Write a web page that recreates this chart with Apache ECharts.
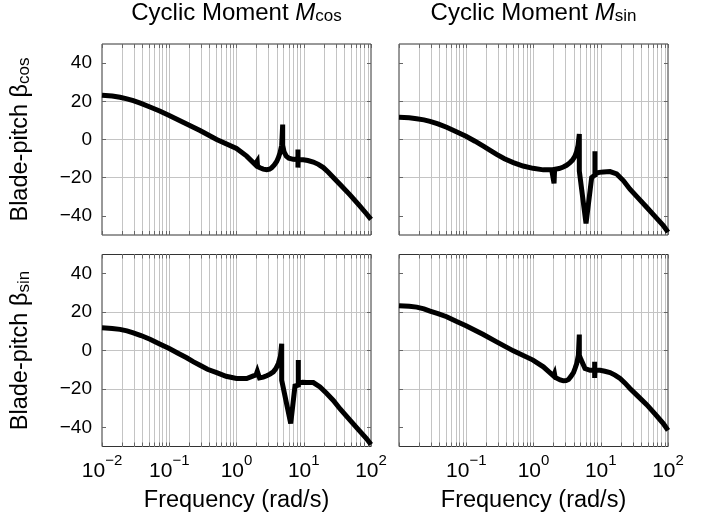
<!DOCTYPE html>
<html><head><meta charset="utf-8">
<script src="https://cdn.jsdelivr.net/npm/echarts@6/dist/echarts.min.js"></script>
<style>html,body{margin:0;padding:0;background:#fff}#c{width:717px;height:521px}</style>
</head><body><div id="c"></div>
<script>
// ---- data ----
const xMajorTicks = [0.01, 0.1, 1, 10, 100];
const yTicks = [-40, -20, 0, 20, 40];
const columnInputs = ['cos', 'sin'];   // Cyclic Moment M_cos / M_sin
const rowOutputs = ['cos', 'sin'];     // Blade-pitch beta_cos / beta_sin

// Top-left: beta_cos / M_cos
const freqTL = [0.01,0.0142,0.0185,0.0235,0.0292,0.038,0.0517,0.072,0.1,0.1816,0.2866,0.507,1.0,1.417,1.884,2.0,2.03,2.06,2.235,2.5,2.81,3.1,3.33,3.65,3.96,4.2,4.44,4.7,4.86,4.86,5.1,5.5,6.0,7.0,8.2,8.2,8.2,8.25,9.86,11.5,13.88,16.5,19.56,23.0,27.54,35.0,48.7,65.0,86.2,100];
const magTL  = [23.2,22.8,22.1,21.3,20.3,18.9,17.0,14.9,12.6,8.1,4.7,0.0,-4.7,-8.7,-13.0,-13.8,-11.3,-14.2,-14.8,-15.5,-15.8,-15.5,-14.8,-13.3,-11.5,-9.5,-6.9,-3.0,7.8,-3.0,-6.5,-8.7,-9.8,-10.4,-10.5,-5.2,-14.7,-10.5,-10.6,-11.0,-11.8,-13.0,-14.7,-17.0,-19.9,-23.7,-29.0,-34.0,-39.0,-41.8];

// Top-right: beta_cos / M_sin
const freqTR = [0.01,0.0142,0.0183,0.0235,0.0289,0.038,0.0511,0.07,0.0992,0.135,0.1795,0.23,0.2833,0.37,0.5013,0.7,0.983,1.4,1.862,1.98,2.02,2.06,2.4,2.777,3.1,3.49,3.8,4.14,4.39,4.6,4.8,4.8,6.04,7.33,8.2,8.2,8.2,8.3,9.5,10.92,13.73,17.25,21.67,27.2,35.0,48.2,65.0,85.2,100];
const magTR  = [11.6,11.4,10.9,10.3,9.5,8.2,6.4,4.2,1.7,-0.9,-3.5,-5.8,-7.8,-10.1,-12.1,-13.9,-15.1,-15.9,-15.8,-15.7,-23.0,-15.6,-15.2,-14.4,-13.5,-12.1,-10.8,-8.7,-6.2,-3.0,2.9,-16.5,-44.0,-19.9,-18.5,-6.1,-19.5,-17.8,-17.2,-17.0,-16.8,-18.0,-21.5,-26.0,-30.2,-35.5,-40.5,-45.0,-48.5];

// Bottom-left: beta_sin / M_cos
const freqBL = [0.01,0.0142,0.0185,0.0235,0.0292,0.038,0.0517,0.072,0.1,0.135,0.1816,0.23,0.2866,0.37,0.507,0.7,1.0,1.417,1.78,1.95,2.04,2.2,2.5,2.81,3.15,3.53,3.85,4.19,4.5,4.7,4.7,6.4,7.41,8.3,8.3,8.3,8.4,9.6,11.05,13.88,17.44,21.8,27.54,35.0,48.7,65.0,86.2,100];
const magBL  = [11.8,11.5,11.0,10.2,9.2,7.8,5.9,3.4,1.0,-1.4,-3.8,-5.9,-7.7,-9.8,-11.5,-13.4,-14.6,-14.6,-13.2,-12.8,-10.8,-14.3,-13.9,-13.2,-12.3,-11.1,-9.4,-6.8,-3.0,3.5,-15.5,-38.0,-18.5,-18.0,-5.0,-18.5,-17.0,-16.6,-16.7,-16.7,-19.0,-22.3,-26.0,-30.6,-36.3,-41.2,-46.0,-49.0];

// Bottom-right: beta_sin / M_sin
const freqBR = [0.01,0.0142,0.0183,0.0235,0.0289,0.038,0.0511,0.072,0.0992,0.1795,0.2833,0.5013,0.983,1.40,1.98,2.05,2.1,2.23,2.5,2.78,3.05,3.31,3.6,3.93,4.15,4.39,4.65,4.8,4.8,5.05,5.27,5.83,6.95,8.12,8.12,8.12,8.2,9.8,11.5,13.73,16.3,19.4,23.0,27.2,35.0,48.2,65.0,85.2,100];
const magBR  = [23.3,23.0,22.6,21.7,20.5,19.2,17.6,15.1,12.9,8.3,4.5,-0.2,-5.0,-8.5,-13.2,-12.0,-14.0,-14.5,-15.3,-15.8,-15.7,-15.1,-13.5,-11.5,-9.3,-6.8,-2.5,8.3,-2.5,-4.5,-5.9,-9.4,-10.3,-10.3,-5.9,-14.3,-10.3,-10.3,-10.8,-11.5,-12.8,-14.6,-17.0,-19.8,-23.5,-28.2,-33.3,-38.1,-41.6];

// ---- layout / style ----
const FONT = '"Liberation Sans", Arial, Helvetica, sans-serif';
const panels = [
  {f: freqTL, v: magTL}, {f: freqTR, v: magTR},
  {f: freqBL, v: magBL}, {f: freqBR, v: magBR}
];
const gridPos = [[102, 43], [399, 43], [102, 254.5], [399, 254.5]];
const GW = 269, GH = 192;
const GRID_COLOR = '#c4c4c4', TICK_COLOR = '#666', FRAME_COLOR = '#333';

const xAllTicks = [];
for (let i = 0; i < xMajorTicks.length - 1; i++) {
  for (let k = 1; k <= 9; k++) xAllTicks.push(+(k * xMajorTicks[i]).toPrecision(3));
}
xAllTicks.push(xMajorTicks[xMajorTicks.length - 1]);

function supLabel(v) {
  const e = Math.round(Math.log10(v));
  return '{b|10}{s|' + (e < 0 ? '\u2212' + (-e) : String(e)) + '}';
}
const supRich = {
  b: {fontSize: 21, lineHeight: 28, verticalAlign: 'bottom', fontFamily: FONT, color: '#000'},
  s: {fontSize: 15, lineHeight: 18, verticalAlign: 'top', fontFamily: FONT, color: '#000'}
};
const titleRich = {
  n: {fontSize: 24, lineHeight: 30, verticalAlign: 'bottom', fontFamily: FONT, color: '#000'},
  m: {fontSize: 24, lineHeight: 30, verticalAlign: 'bottom', fontStyle: 'italic', fontFamily: FONT, color: '#000'},
  s: {fontSize: 17, lineHeight: 17, verticalAlign: 'bottom', fontFamily: FONT, color: '#000'}
};
const ynameRich = {
  n: {fontSize: 23.5, lineHeight: 30, verticalAlign: 'bottom', fontFamily: FONT, color: '#000'},
  s: {fontSize: 17, lineHeight: 17, verticalAlign: 'bottom', fontFamily: FONT, color: '#000'}
};

const xAxes = [], yAxes = [], series = [], grids = [];
const topX = [], rightY = [];
panels.forEach((p, i) => {
  const r = Math.floor(i / 2), c = i % 2;
  grids.push({left: gridPos[i][0], top: gridPos[i][1], width: GW, height: GH,
    show: true, borderColor: FRAME_COLOR, borderWidth: 1, backgroundColor: 'transparent'});
  xAxes.push({
    type: 'log', logBase: 10, gridIndex: i, min: 0.01, max: 100, position: 'bottom',
    axisLine: {show: false, onZero: false},
    axisTick: {show: true, inside: true, length: 4, customValues: xAllTicks, lineStyle: {color: TICK_COLOR, width: 1}},
    axisLabel: {show: r === 1, customValues: c === 1 ? xMajorTicks.slice(1) : xMajorTicks,
      formatter: supLabel, margin: 7, rich: supRich},
    splitLine: {show: true, showMinLine: false, showMaxLine: false, lineStyle: {color: GRID_COLOR, width: 1}},
    name: r === 1 ? 'Frequency (rad/s)' : '', nameLocation: 'middle', nameGap: 42,
    nameTextStyle: {fontFamily: FONT, fontSize: 23.5, color: '#000'}
  });
  topX.push({
    type: 'log', logBase: 10, gridIndex: i, min: 0.01, max: 100, position: 'top',
    axisLine: {show: false, onZero: false},
    axisTick: {show: true, inside: true, length: 4, customValues: xAllTicks, lineStyle: {color: TICK_COLOR, width: 1}},
    axisLabel: {show: false}, splitLine: {show: false},
    name: r === 0 ? '{n|Cyclic Moment }{m|M}{s|' + columnInputs[c] + '}' : '',
    nameLocation: 'middle', nameGap: 19,
    nameTextStyle: {rich: titleRich}
  });
  yAxes.push({
    type: 'value', gridIndex: i, min: -50, max: 50, position: 'left',
    axisLine: {show: false, onZero: false},
    axisTick: {show: true, inside: true, length: 4, customValues: yTicks, lineStyle: {color: TICK_COLOR, width: 1}},
    axisLabel: {show: c === 0, customValues: yTicks, margin: 10, fontSize: 19, fontFamily: FONT, color: '#000',
      formatter: v => String(v).replace('-', '\u2212')},
    splitLine: {show: true, showMinLine: false, showMaxLine: false, lineStyle: {color: GRID_COLOR, width: 1}},
    name: c === 0 ? '{n|Blade-pitch \u03b2}{s|' + rowOutputs[r] + '}' : '',
    nameLocation: 'middle', nameGap: 69, nameRotate: 90,
    nameTextStyle: {rich: ynameRich}
  });
  rightY.push({
    type: 'value', gridIndex: i, min: -50, max: 50, position: 'right',
    axisLine: {show: false, onZero: false},
    axisTick: {show: true, inside: true, length: 4, customValues: yTicks, lineStyle: {color: TICK_COLOR, width: 1}},
    axisLabel: {show: false}, splitLine: {show: false}
  });
  series.push({
    type: 'line', xAxisIndex: i, yAxisIndex: i,
    data: p.f.map((f, k) => [f, p.v[k]]),
    showSymbol: false, symbol: 'none', silent: true, clip: true,
    lineStyle: {color: '#000', width: 5, join: 'miter', miterLimit: 4, cap: 'butt'},
    z: 5
  });
});

const chart = echarts.init(document.getElementById('c'), null, {renderer: 'canvas'});
chart.setOption({
  animation: false,
  textStyle: {fontFamily: FONT},
  grid: grids,
  xAxis: xAxes.concat(topX),
  yAxis: yAxes.concat(rightY),
  series: series
});
</script>
</body></html>
